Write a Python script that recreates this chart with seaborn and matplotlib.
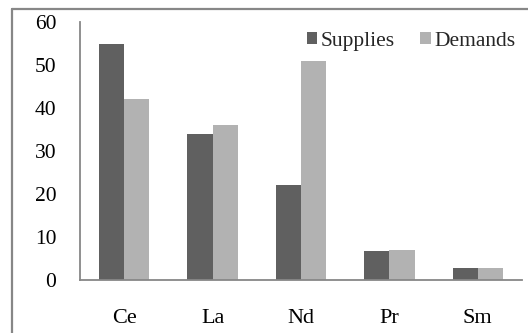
import matplotlib
matplotlib.use("Agg")
import matplotlib.pyplot as plt
import seaborn as sns
import pandas as pd
from matplotlib.lines import Line2D

elements = ["Ce", "La", "Nd", "Pr", "Sm"]
supplies = [55, 34, 22, 6.8, 2.7]
demands = [42, 36, 51, 7.0, 2.7]
series = ["Supplies", "Demands"]
y_ticks = [0, 10, 20, 30, 40, 50, 60]

df = pd.DataFrame({
    "element": elements * 2,
    "value": supplies + demands,
    "series": [series[0]] * len(elements) + [series[1]] * len(elements),
})

sns.set_theme(style="white")
plt.rcParams["font.family"] = ["Liberation Serif", "DejaVu Serif"]

W, H = 528, 333
fig = plt.figure(figsize=(W / 100, H / 100), dpi=100)
ax = fig.add_axes([80 / W, 1 - 280 / H, 442 / W, 258 / H])

axis_grey = "#878787"
sns.barplot(data=df, x="element", y="value", hue="series", order=elements,
            hue_order=series, palette=["#606060", "#b2b2b2"], width=0.57,
            saturation=1, edgecolor="none", ax=ax)

ax.set_ylim(0, 60)
ax.set_xlim(-0.5, len(elements) - 0.5)
ax.set_yticks(y_ticks)
ax.set_yticklabels([str(t) for t in y_ticks], fontsize=15.5, color="black")
ax.set_xticks(range(len(elements)))
ax.set_xticklabels(elements, fontsize=16, color="black")
ax.set_xticks([i - 0.5 for i in range(len(elements) + 1)], minor=True)
ax.tick_params(axis="x", which="major", length=0, pad=21)
ax.tick_params(axis="x", which="minor", length=4, width=1.2, color=axis_grey,
               direction="out")
ax.tick_params(axis="y", which="major", length=4, width=1.2, color=axis_grey,
               direction="out", pad=13)
ax.set_xlabel("")
ax.set_ylabel("")

for side in ["top", "right"]:
    ax.spines[side].set_visible(False)
for side in ["left", "bottom"]:
    ax.spines[side].set_color(axis_grey)
    ax.spines[side].set_linewidth(1.3)

handles, labels = ax.get_legend_handles_labels()
ax.legend(handles, labels, loc="upper right", bbox_to_anchor=(1.005, 0.995),
          ncol=2, frameon=False, fontsize=15.5, handlelength=0.5,
          handleheight=0.5, handletextpad=0.15, columnspacing=1.2,
          borderaxespad=0.0)

# chart-area frame around the plot
fig.add_artist(Line2D([12 / W, 1.0], [1 - 9 / H, 1 - 9 / H],
                      transform=fig.transFigure, color=axis_grey, lw=1.6))
fig.add_artist(Line2D([12 / W, 12 / W], [0.0, 1 - 9 / H],
                      transform=fig.transFigure, color=axis_grey, lw=1.6))

fig.savefig("out.png", dpi=100)
